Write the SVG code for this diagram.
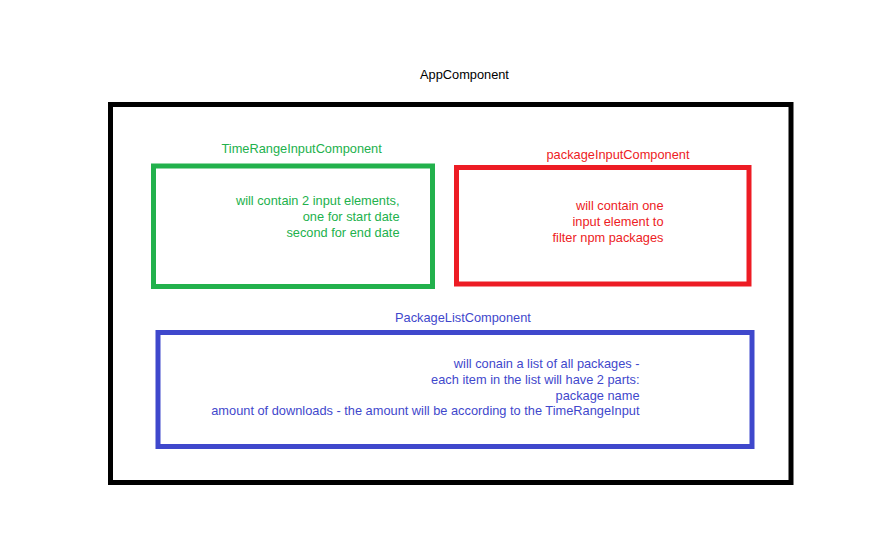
<svg xmlns="http://www.w3.org/2000/svg" width="892" height="533" viewBox="0 0 892 533">
<style>
text{font-family:"Liberation Sans",Arial,sans-serif;font-size:12.8px}
.box{fill:none;stroke-width:5}
.g{fill:#22b14c}.r{fill:#ed1c24}.b{fill:#3f48cc}.k{fill:#000}
.end{text-anchor:end}
</style>
<rect width="892" height="533" fill="#fff"/>
<g id="app">
<rect class="box" x="110.5" y="104.5" width="680.5" height="378" stroke="#000"/>
<text class="k" x="420" y="79">AppComponent</text>
</g>
<g id="timeRange">
<rect class="box" x="153.5" y="166" width="279" height="120.5" stroke="#22b14c"/>
<text class="g" x="221.5" y="153">TimeRangeInputComponent</text>
<text class="g end" x="399.5" y="205">will contain 2 input elements,</text>
<text class="g end" x="399.5" y="221">one for start date</text>
<text class="g end" x="399.5" y="237">second for end date</text>
</g>
<g id="packageInput">
<rect class="box" x="456.5" y="167.5" width="292.5" height="116.5" stroke="#ed1c24"/>
<text class="r" x="546.5" y="159">packageInputComponent</text>
<text class="r end" x="663.5" y="209.5">will contain one</text>
<text class="r end" x="663.5" y="225.5">input element to</text>
<text class="r end" x="663.5" y="241.5">filter npm packages</text>
</g>
<g id="packageList">
<rect class="box" x="158" y="332.5" width="594" height="114" stroke="#3f48cc"/>
<text class="b" x="395" y="321.5">PackageListComponent</text>
<text class="b end" x="639.5" y="367.5">will conain a list of all packages -</text>
<text class="b end" x="639.5" y="383.5">each item in the list will have 2 parts:</text>
<text class="b end" x="639.5" y="399.5">package name</text>
<text class="b end" x="639.5" y="415">amount of downloads - the amount will be according to the TimeRangeInput</text>
</g>
<g id="connectors"/>
</svg>
